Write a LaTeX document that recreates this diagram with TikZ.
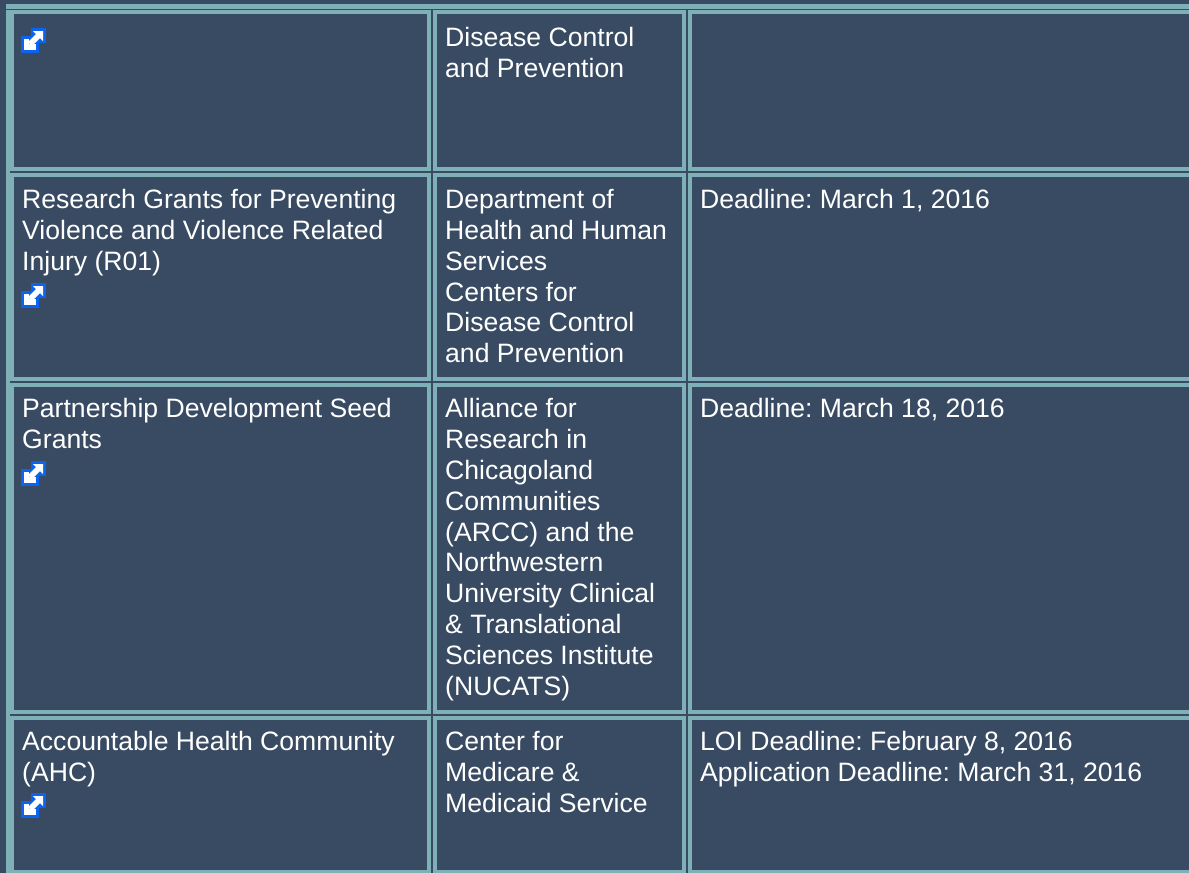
\documentclass[tikz,border=0pt]{standalone}
\usepackage{fontspec}
\setmainfont{Liberation Sans}
\frenchspacing
\definecolor{cellbg}{HTML}{394B63}
\definecolor{rule}{HTML}{7FB0B8}
\definecolor{iconblue}{HTML}{0A64F0}
\tikzset{
  x=1pt,y=-1pt,
  celltext/.style={anchor=north west,inner sep=0pt,align=left,text=white,font=\fontsize{26.6pt}{30.8pt}\selectfont\frenchspacing},
}
\newcommand{\linkicon}[2]{%
  \begin{scope}[shift={(#1,#2)}]
    \fill[iconblue] (0,8) rectangle (18,25);
    \fill[iconblue] (10,0) rectangle (25,15);
    \fill[white] (3,11) rectangle (15,22);
    \fill[iconblue] (8,11) rectangle (15,16);
    \fill[white] (12,3) -- (22,3) -- (22,13) -- (19,10) -- (11,18) -- (7,14) -- (15,6) -- cycle;
  \end{scope}}
\begin{document}
\begin{tikzpicture}
\useasboundingbox (0,0) rectangle (1189,873);
\fill[cellbg] (0,0) rectangle (1189,873);
% outer border
\fill[rule] (6,4) rectangle (1189,873);
\fill[cellbg] (6,9) rectangle (1189,10);
% cells
\foreach \xa/\xb/\ya/\yb in {
 14/427/14/167, 437/682/14/167, 692/1189/14/167,
 14/427/177/377, 437/682/177/377, 692/1189/177/377,
 14/427/387/710, 437/682/387/710, 692/1189/387/710,
 14/427/720/870, 437/682/720/870, 692/1189/720/870}{
 \fill[cellbg] (\xa,\ya) rectangle (\xb,\yb);
}
% dark separators
\fill[cellbg] (431,10) rectangle (433,873);
\fill[cellbg] (686,10) rectangle (688,873);
\fill[cellbg] (10,171) rectangle (1189,173);
\fill[cellbg] (10,381) rectangle (1189,383);
\fill[cellbg] (10,714) rectangle (1189,716);
% texts
\node[celltext] (t1) at (445,27.3) {Disease Control\\and Prevention};
\node[celltext] (t2) at (22,189.3) {Research Grants for Preventing\\Violence and Violence Related\\Injury (R01)};
\node[celltext] (t3) at (445,189.3) {Department of\\Health and Human\\Services\\Centers for\\Disease Control\\and Prevention};
\node[celltext] (t4) at (700,189.3) {Deadline: March 1, 2016};
\node[celltext] (t5) at (22,398.5) {Partnership Development Seed\\Grants};
\node[celltext] (t6) at (445,398.5) {Alliance for\\Research in\\Chicagoland\\Communities\\(ARCC) and the\\Northwestern\\University Clinical\\\& Translational\\Sciences Institute\\(NUCATS)};
\node[celltext] (t7) at (700,398.5) {Deadline: March 18, 2016};
\node[celltext] (t8) at (22,731.3) {Accountable Health Community\\(AHC)};
\node[celltext] (t9) at (445,731.3) {Center for\\Medicare \&\\Medicaid Service};
\node[celltext] (t10) at (700,731.3) {LOI Deadline: February 8, 2016\\Application Deadline: March 31, 2016};
% icons
\linkicon{21}{28}
\linkicon{21}{283}
\linkicon{21}{461}
\linkicon{21}{793}
\end{tikzpicture}
\end{document}
